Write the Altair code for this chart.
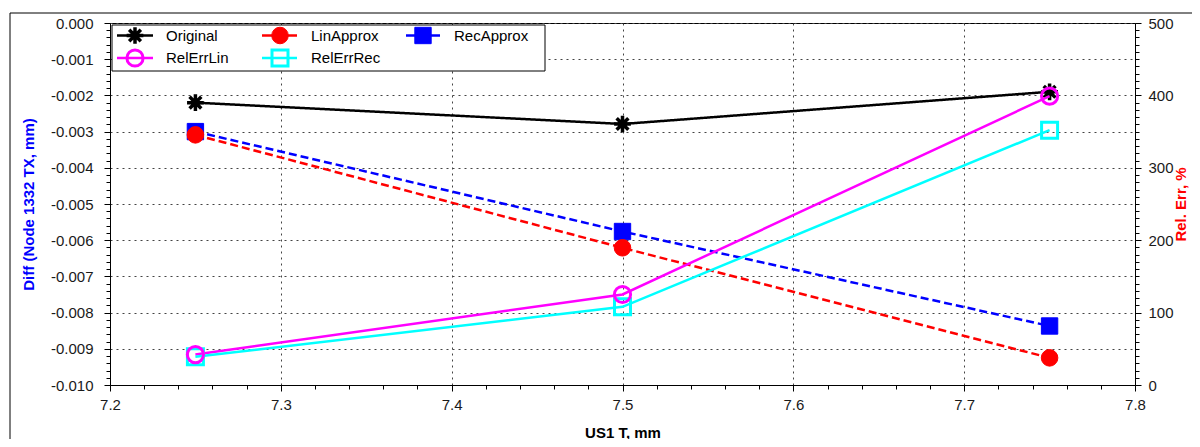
import altair as alt
import pandas as pd

# ---------------- data ----------------
x_vals = [7.25, 7.5, 7.75]
original = [-0.00220, -0.00279, -0.00190]
lin_approx = [-0.00309, -0.00621, -0.00925]
rec_approx = [-0.00300, -0.00576, -0.00837]
rel_err_lin = [42, 125, 399]
rel_err_rec = [39, 108, 352]

names = ["Original", "LinApprox", "RecApprox", "RelErrLin", "RelErrRec"]
colors = ["#000000", "#ff0000", "#0000ff", "#ff00ff", "#00ffff"]
fills = ["#000000", "#ff0000", "#0000ff", "transparent", "transparent"]

x_ticks = [7.2, 7.3, 7.4, 7.5, 7.6, 7.7, 7.8]
left_ticks = [0.000, -0.001, -0.002, -0.003, -0.004, -0.005, -0.006, -0.007, -0.008, -0.009, -0.010]
right_ticks = [0, 100, 200, 300, 400, 500]

# minor tick positions (between major ticks)
x_minor = [round(7.2 + i * 0.02, 2) for i in range(31)]
left_minor = [round(-0.010 + i * 0.0002, 4) for i in range(51)]
right_minor = [i * 10 for i in range(51)]

left_df = pd.DataFrame(
    [{"x": x, "y": v, "name": n}
     for n, arr in [("Original", original), ("LinApprox", lin_approx), ("RecApprox", rec_approx)]
     for x, v in zip(x_vals, arr)]
)
right_df = pd.DataFrame(
    [{"x": x, "y": v, "name": n}
     for n, arr in [("RelErrLin", rel_err_lin), ("RelErrRec", rel_err_rec)]
     for x, v in zip(x_vals, arr)]
)

W, H = 1025, 362
FONT = "Liberation Sans"

asterisk = "M-1,0H1M0,-1V1M-0.7,-0.7L0.7,0.7M-0.7,0.7L0.7,-0.7"
shape_scale = alt.Scale(domain=names, range=[asterisk, "circle", "square", "circle", "square"])
color_scale = alt.Scale(domain=names, range=colors)
fill_scale = alt.Scale(domain=names, range=fills)
size_scale = alt.Scale(domain=names, range=[280, 256, 256, 150, 150])
dash_scale = alt.Scale(domain=names, range=[[1, 0], [8, 4], [8, 4], [1, 0], [1, 0]])

# marker drawing order, each with its own outline width
marker_groups = [
    (["RelErrRec"], 3),
    (["RelErrLin"], 3),
    (["RecApprox"], 1),
    (["LinApprox"], 1),
    (["Original"], 3.5),
]

major_x = "abs(datum.value*10 - round(datum.value*10)) < 1e-6"
major_l = "abs(datum.value*1000 - round(datum.value*1000)) < 1e-6"
major_r = "abs(datum.value/100 - round(datum.value/100)) < 1e-6"

x_enc = alt.X(
    "x:Q",
    scale=alt.Scale(domain=[7.2, 7.8], nice=False, zero=False),
    axis=alt.Axis(
        values=x_minor,
        tickCount=1000,
        title="US1 T, mm",
        labelExpr=f"{major_x} ? format(datum.value, '.1f') : ''",
        tickSize={"condition": {"test": major_x, "value": 6}, "value": 4},
        grid=True,
        gridOpacity={"condition": {"test": major_x, "value": 1}, "value": 0},
        gridDash=[2, 4],
        gridColor="#444444",
        labelPadding=6,
        titleY=47,
        titleBaseline="middle",
    ),
)

yl_enc = alt.Y(
    "y:Q",
    scale=alt.Scale(domain=[-0.010, 0.0], nice=False, zero=False),
    axis=alt.Axis(
        orient="left",
        values=left_minor,
        tickCount=1000,
        title="Diff (Node 1332 TX, mm)",
        titleColor="#0000ff",
        labelExpr=f"{major_l} ? (datum.value < -1e-9 ? '-' + format(-datum.value, '.3f') : format(abs(datum.value), '.3f')) : ''",
        tickSize={"condition": {"test": major_l, "value": 6}, "value": 4},
        grid=True,
        gridOpacity={"condition": {"test": major_l, "value": 1}, "value": 0},
        gridDash=[2, 4],
        gridColor="#444444",
        labelPadding=11,
        titleX=-82,
        titleY=H / 2,
        titleAngle=270,
        titleBaseline="middle",
    ),
)

yr_enc = alt.Y(
    "y:Q",
    scale=alt.Scale(domain=[0, 500], nice=False, zero=False),
    axis=alt.Axis(
        orient="right",
        values=right_minor,
        tickCount=1000,
        title="Rel. Err, %",
        titleColor="#ff0000",
        labelExpr=f"{major_r} ? format(datum.value, 'd') : ''",
        tickSize={"condition": {"test": major_r, "value": 6}, "value": 4},
        grid=False,
        labelPadding=7,
        titleX=45,
        titleY=H / 2,
        titleAngle=270,
        titleBaseline="middle",
    ),
)


def point_layers(df, xf, yf, pixel=False):
    layers = []
    for group, sw in marker_groups:
        present = [g for g in group if g in set(df["name"])]
        if not present:
            continue
        xe = alt.X(xf, scale=None) if pixel else alt.X(xf)
        ye = alt.Y(yf, scale=None) if pixel else alt.Y(yf)
        layers.append(
            alt.Chart(df).transform_filter(
                alt.FieldOneOfPredicate(field="name", oneOf=present)
            ).mark_point(filled=False, strokeWidth=sw, opacity=1, fillOpacity=1).encode(
                x=xe, y=ye,
                stroke=alt.Stroke("name:N", scale=color_scale, legend=None),
                fill=alt.Fill("name:N", scale=fill_scale, legend=None),
                shape=alt.Shape("name:N", scale=shape_scale, legend=None),
                size=alt.Size("name:N", scale=size_scale, legend=None),
            )
        )
    return layers


left_lines = alt.Chart(left_df).mark_line(strokeWidth=2.5).encode(
    x=x_enc, y=yl_enc,
    color=alt.Color("name:N", scale=color_scale, legend=None),
    strokeDash=alt.StrokeDash("name:N", scale=dash_scale, legend=None),
    detail="name:N",
)
right_lines = alt.Chart(right_df).mark_line(strokeWidth=2.5).encode(
    x=alt.X("x:Q"), y=yr_enc,
    color=alt.Color("name:N", scale=color_scale, legend=None),
    detail="name:N",
)

left_layer = alt.layer(left_lines, *point_layers(left_df, "x:Q", "y:Q"))
right_layer = alt.layer(right_lines, *point_layers(right_df, "x:Q", "y:Q"))

# ---------------- legend (drawn manually, pixel positions) ----------------
leg_rows = [0, 0, 0, 1, 1]
leg_cols = [0, 1, 2, 0, 1]
col_line_start = [7, 152, 296]
col_line_end = [43, 187, 330]
col_marker = [25, 170, 313]
col_text = [56, 201, 344]
row_y = [12.5, 35]

leg_df = pd.DataFrame({
    "name": names,
    "x1": [col_line_start[c] for c in leg_cols],
    "x2": [col_line_end[c] for c in leg_cols],
    "xm": [col_marker[c] for c in leg_cols],
    "xt": [col_text[c] for c in leg_cols],
    "ly": [row_y[r] for r in leg_rows],
})

leg_box = alt.Chart(pd.DataFrame({"a": [0]})).mark_rect(
    fill="white", stroke="black", strokeWidth=1
).encode(x=alt.value(2), x2=alt.value(435), y=alt.value(2), y2=alt.value(48))

leg_lines = alt.Chart(leg_df).mark_rule(strokeWidth=2.5).encode(
    x=alt.X("x1:Q", scale=None), x2="x2:Q",
    y=alt.Y("ly:Q", scale=None),
    color=alt.Color("name:N", scale=color_scale, legend=None),
)
leg_text = alt.Chart(leg_df).mark_text(
    align="left", baseline="middle", font=FONT, fontSize=15, color="black"
).encode(
    x=alt.X("xt:Q", scale=None), y=alt.Y("ly:Q", scale=None), text="name:N"
)

frame = alt.Chart(pd.DataFrame({"a": [0]})).mark_rect(
    fillOpacity=0, stroke="black", strokeWidth=1
).encode(x=alt.value(-100), x2=alt.value(1300), y=alt.value(-10), y2=alt.value(700))

chart = alt.layer(
    frame, left_layer, right_layer, leg_box, leg_lines,
    *point_layers(leg_df, "xm:Q", "ly:Q", pixel=True), leg_text
).resolve_scale(y="independent").properties(
    width=W, height=H,
    autosize=alt.AutoSizeParams(type="none"),
    padding={"left": 102, "top": 15, "right": 57, "bottom": 54},
    background="white",
).configure_view(
    stroke="black", strokeWidth=1
).configure_axis(
    labelFont=FONT, labelFontSize=15, labelColor="#1a1a1a",
    titleFont=FONT, titleFontSize=15, titleFontWeight="bold", titleColor="black",
    domainColor="black", tickColor="black", labelFlush=False, labelOverlap=False,
)

chart.save("out.html", embed_options={"renderer": "svg", "actions": False})
